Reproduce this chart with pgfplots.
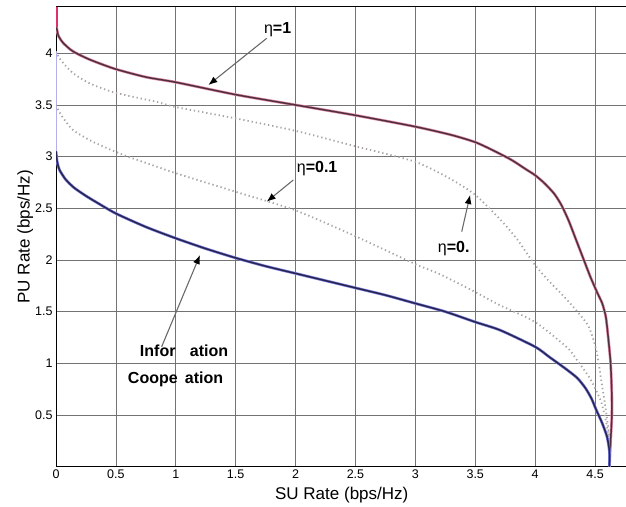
\documentclass[border=0pt]{standalone}
\usepackage{fontspec}
\setmainfont{Liberation Sans}
\usepackage{pgfplots}
\usepackage{pgfplotstable}
\pgfplotsset{compat=1.18}
\usetikzlibrary{arrows.meta}

\definecolor{redcore}{HTML}{503040}
\definecolor{redhalo}{HTML}{E08AA4}
\definecolor{redtop}{HTML}{E0306A}
\definecolor{bluecore}{HTML}{262650}
\definecolor{bluehalo}{HTML}{7C7CE0}
\definecolor{dotgray}{HTML}{A8A4A4}
\definecolor{arrowgray}{HTML}{6A6A6A}

\tikzset{
  annot/.style={font=\fontsize{16}{18}\selectfont\bfseries},
  arr/.style={draw=arrowgray, line width=1.1pt, -{Latex[length=9pt,width=7pt,color=black]}},
}

% eta = 1
\pgfplotstableread{
x y
0.005 4.25
0.02 4.17
0.06 4.10
0.14 4.02
0.28 3.94
0.49 3.85
0.75 3.77
1.00 3.72
1.50 3.60
2.00 3.50
2.50 3.40
3.00 3.29
3.30 3.21
3.50 3.14
3.65 3.06
3.80 2.97
3.92 2.88
4.00 2.82
4.08 2.74
4.16 2.64
4.22 2.53
4.28 2.38
4.34 2.20
4.40 2.02
4.46 1.84
4.52 1.68
4.56 1.58
4.59 1.45
4.61 1.25
4.63 1.00
4.64 0.70
4.64 0.48
4.63 0.25
4.62 0.00
}\etaone

% eta = 0.5 (dotted)
\pgfplotstableread{
x y
0.00 4.02
0.02 3.97
0.05 3.92
0.14 3.81
0.28 3.71
0.49 3.62
0.84 3.53
1.00 3.48
1.50 3.37
2.00 3.25
2.50 3.10
3.00 2.95
3.30 2.78
3.50 2.63
3.71 2.39
3.85 2.20
4.00 1.95
4.12 1.79
4.27 1.61
4.44 1.37
4.51 1.13
4.55 0.85
4.59 0.55
4.62 0.26
4.62 0.00
}\etahalf

% eta = 0.1 (dotted)
\pgfplotstableread{
x y
0.00 3.50
0.02 3.45
0.05 3.39
0.14 3.26
0.28 3.16
0.45 3.07
0.60 3.00
0.80 2.92
1.00 2.84
1.50 2.66
2.00 2.48
2.50 2.23
3.00 1.96
3.21 1.86
3.50 1.69
3.71 1.56
4.00 1.40
4.27 1.15
4.35 1.03
4.46 0.85
4.55 0.63
4.60 0.39
4.62 0.20
4.62 0.00
}\etatenth

% information cooperation
\pgfplotstableread{
x y
0.00 3.05
0.01 2.95
0.03 2.87
0.08 2.78
0.15 2.70
0.25 2.62
0.35 2.55
0.50 2.45
0.75 2.32
1.00 2.21
1.25 2.11
1.50 2.02
1.75 1.94
2.00 1.87
2.25 1.80
2.50 1.73
2.75 1.66
3.00 1.58
3.25 1.50
3.50 1.40
3.71 1.32
4.00 1.16
4.12 1.06
4.24 0.96
4.35 0.86
4.42 0.76
4.47 0.66
4.51 0.55
4.56 0.42
4.60 0.29
4.62 0.15
4.62 0.00
}\infocoop

\begin{document}
\begin{tikzpicture}
\useasboundingbox (0,0) rectangle (626pt,506pt);
\begin{axis}[
  at={(56pt,39.3pt)}, anchor=south west,
  scale only axis, width=571.5pt, height=459.7pt,
  xmin=0, xmax=4.771, ymin=0, ymax=4.448,
  xtick={0,0.5,1,1.5,2,2.5,3,3.5,4,4.5},
  ytick={0.5,1,1.5,2,2.5,3,3.5,4},
  grid=major, grid style={black!55, line width=0.6pt},
  axis line style={black, line width=1pt},
  tick style={draw=none},
  ticklabel style={font=\fontsize{12.5}{14}\selectfont},
  /pgf/number format/assume math mode=true,
  label style={font=\fontsize{17}{20}\selectfont},
  xlabel={SU Rate (bps/Hz)}, ylabel={PU Rate (bps/Hz)},
  ylabel shift=-5pt, xlabel shift=1pt,
]
% vertical parts on the left edge
\addplot[bluehalo!60, line width=2pt] coordinates {(0.003,4.02) (0.003,3.05)};
\addplot[redtop, line width=2.6pt] coordinates {(0.004,4.448) (0.005,4.25)};

\addplot[dotgray, line width=1.8pt, dash pattern=on 1.3pt off 2.9pt, smooth, tension=0.4] table {\etahalf};
\addplot[dotgray, line width=1.8pt, dash pattern=on 1.3pt off 2.9pt, smooth, tension=0.4] table {\etatenth};

\addplot[redhalo, line width=2.8pt, smooth, tension=0.4] table {\etaone};
\addplot[redcore, line width=1.5pt, smooth, tension=0.4] table {\etaone};
\addplot[bluehalo, line width=2.8pt, smooth, tension=0.4] table {\infocoop};
\addplot[bluecore, line width=1.5pt, smooth, tension=0.4] table {\infocoop};

% annotations
\node[annot] at (axis cs:1.85,4.226) {{\mdseries η}=1};
\draw[arr] (axis cs:1.759,4.145) -- (axis cs:1.272,3.693);
\node[annot] at (axis cs:2.18,2.88) {{\mdseries η}=0.1};
\draw[arr] (axis cs:1.981,2.774) -- (axis cs:1.759,2.564);
\node[annot] at (axis cs:3.32,2.11) {{\mdseries η}=0.};
\draw[arr] (axis cs:3.387,2.274) -- (axis cs:3.457,2.629);
\node[annot] at (axis cs:1.069,1.12) {Infor\hspace{0.9em}ation};
\node[annot] at (axis cs:0.998,0.846) {Coope\hspace{0.45em}ation};
\draw[arr] (axis cs:0.882,1.161) -- (axis cs:1.202,2.048);
\end{axis}
\end{tikzpicture}
\end{document}
